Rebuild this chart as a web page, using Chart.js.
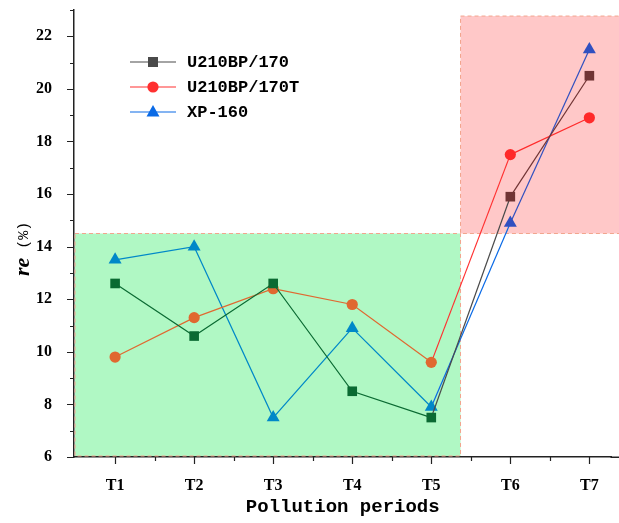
<!DOCTYPE html>
<html lang="en">
<head>
    <meta charset="UTF-8">
    <title>re vs pollution periods</title>
    <script src="https://cdn.jsdelivr.net/npm/chart.js"></script>
    <style>
        html, body { margin: 0; padding: 0; background: #fff; }
        #wrap { width: 619px; height: 523px; }
    </style>
</head>
<body>
    <div id="wrap"><canvas id="myChart"></canvas></div>

    <script>
        // data
        const periods = ['T1', 'T2', 'T3', 'T4', 'T5', 'T6', 'T7'];
        const seriesNames = ['U210BP/170', 'U210BP/170T', 'XP-160'];
        const u210bp170 = [12.6, 10.6, 12.6, 8.5, 7.5, 15.9, 20.5];
        const u210bp170t = [9.8, 11.3, 12.4, 11.8, 9.6, 17.5, 18.9];
        const xp160 = [13.5, 14.0, 7.5, 10.9, 7.9, 14.9, 21.5];
        const yTicks = [6, 8, 10, 12, 14, 16, 18, 20, 22];

        // base colour, colour inside the green box, colour inside the red box
        const colors = ['#4a4a4a', '#ff3030', '#0a6ae6'];
        const greenTint = ['#0a6a32', '#e06830', '#0088c8'];
        const redTint = ['#703434', '#ff2a2a', '#3050c0'];
        const styles = ['rect', 'circle', 'triangle'];
        const radii = [6.8, 5.6, 7.5];
        const values = [u210bp170, u210bp170t, xp160];

        const serif = '"Liberation Serif", "DejaVu Serif", serif';
        const mono = '"Liberation Mono", "DejaVu Sans Mono", monospace';

        const greenEnd = 5.37;   // right edge of the green box (x value)
        const splitY = 14.5;
        const redTop = 22.77;

        const extras = {
            id: 'extras',
            beforeDatasetsDraw(chart) {
                const { ctx, chartArea: a, scales: { x, y } } = chart;
                ctx.save();
                const gx0 = a.left + 1, gx1 = x.getPixelForValue(greenEnd);
                const gy0 = y.getPixelForValue(splitY), gy1 = a.bottom - 1;
                ctx.fillStyle = '#b0f8c4';
                ctx.fillRect(gx0, gy0, gx1 - gx0, gy1 - gy0);
                const rx0 = gx1, rx1 = chart.width + 2;
                const ry0 = y.getPixelForValue(redTop), ry1 = y.getPixelForValue(splitY);
                ctx.fillStyle = '#ffc8c8';
                ctx.fillRect(rx0, ry0, rx1 - rx0, ry1 - ry0);
                ctx.setLineDash([4, 3]);
                ctx.strokeStyle = '#f2a58e';
                ctx.lineWidth = 1;
                ctx.strokeRect(gx0, gy0, gx1 - gx0, gy1 - gy0);
                ctx.strokeRect(rx0, ry0, rx1 - rx0, ry1 - ry0);
                ctx.setLineDash([]);

                // x axis runs on past the canvas edge
                ctx.strokeStyle = '#222';
                ctx.lineWidth = 1.5;
                ctx.beginPath();
                ctx.moveTo(a.right - 1, a.bottom + 0.25);
                ctx.lineTo(chart.width, a.bottom + 0.25);
                ctx.stroke();

                // tick marks, outward
                ctx.lineWidth = 1.2;
                ctx.beginPath();
                for (let v = 6; v <= 23; v++) {
                    const py = Math.round(y.getPixelForValue(v)) + 0.5;
                    const len = v % 2 === 0 ? 7 : 4;
                    ctx.moveTo(a.left, py);
                    ctx.lineTo(a.left - len, py);
                }
                for (let v = 1; v <= 7.5; v += 0.5) {
                    const px = Math.round(x.getPixelForValue(v)) + 0.5;
                    const len = Number.isInteger(v) ? 7 : 4;
                    ctx.moveTo(px, a.bottom);
                    ctx.lineTo(px, a.bottom + len);
                }
                ctx.stroke();
                ctx.restore();
            },
            afterDatasetsDraw(chart) {
                const { ctx } = chart;
                ctx.save();
                // legend
                const rows = [62, 87, 112];
                ctx.font = 'bold 17px ' + mono;
                ctx.textBaseline = 'middle';
                rows.forEach((ry, i) => {
                    ctx.strokeStyle = colors[i];
                    ctx.lineWidth = 1.2;
                    ctx.beginPath();
                    ctx.moveTo(130, ry);
                    ctx.lineTo(176, ry);
                    ctx.stroke();
                    ctx.fillStyle = colors[i];
                    ctx.beginPath();
                    if (i === 0) {
                        ctx.rect(148, ry - 5, 10, 10);
                    } else if (i === 1) {
                        ctx.arc(153, ry, 5.6, 0, Math.PI * 2);
                    } else {
                        ctx.moveTo(153, ry - 7);
                        ctx.lineTo(159.5, ry + 4.5);
                        ctx.lineTo(146.5, ry + 4.5);
                        ctx.closePath();
                    }
                    ctx.fill();
                    ctx.fillStyle = '#000';
                    ctx.fillText(seriesNames[i], 187, ry + 1);
                });

                // y title: "re" bold italic + "(%)"
                ctx.translate(23, 250);
                ctx.rotate(-Math.PI / 2);
                ctx.textBaseline = 'middle';
                ctx.textAlign = 'left';
                ctx.font = 'italic bold 22px ' + serif;
                ctx.fillText('re', -26, 0);
                const w = ctx.measureText('re').width;
                ctx.font = '15px ' + mono;
                ctx.fillText(' (%)', -26 + w, 1);
                ctx.restore();
            }
        };

        const regionColor = (i, idx) => (idx <= 4 ? greenTint[i] : redTint[i]);

        const ctx = document.getElementById('myChart').getContext('2d');
        new Chart(ctx, {
            type: 'line',
            data: {
                datasets: values.map((vals, i) => ({
                    label: seriesNames[i],
                    data: vals.map((v, k) => ({ x: k + 1, y: v })),
                    borderColor: colors[i],
                    backgroundColor: c => regionColor(i, c.dataIndex),
                    borderWidth: 1.2,
                    pointStyle: styles[i],
                    pointRadius: radii[i],
                    pointBorderWidth: 0,
                    tension: 0,
                    fill: false,
                    clip: false,
                    segment: {
                        borderColor: s => (s.p1DataIndex <= 4 ? greenTint[i] : s.p0DataIndex >= 5 ? redTint[i] : colors[i])
                    }
                }))
            },
            options: {
                responsive: true,
                maintainAspectRatio: false,
                animation: false,
                layout: { padding: { top: 10, right: 0, left: 0, bottom: 0 } },
                plugins: {
                    legend: { display: false },
                    tooltip: { enabled: false }
                },
                scales: {
                    x: {
                        type: 'linear',
                        min: 0.48,
                        max: 7.28,
                        afterBuildTicks: s => { s.ticks = periods.map((p, i) => ({ value: i + 1 })); },
                        afterFit: s => { s.height = 66; },
                        grid: { display: false },
                        border: { display: true, color: '#222', width: 1.5 },
                        ticks: {
                            padding: 11,
                            color: '#000',
                            autoSkip: false,
                            maxRotation: 0,
                            font: { family: serif, size: 16, weight: 'bold' },
                            callback: v => periods[v - 1]
                        },
                        title: {
                            display: true,
                            text: 'Pollution periods',
                            color: '#000',
                            font: { family: mono, size: 19, weight: 'bold' },
                            padding: { top: 0, bottom: 4 }
                        }
                    },
                    y: {
                        min: 6,
                        max: 23,
                        afterBuildTicks: s => { s.ticks = yTicks.map(v => ({ value: v })); },
                        afterFit: s => { s.width = 74; s.paddingTop = 0; s.paddingBottom = 0; },
                        grid: { display: false },
                        border: { display: true, color: '#222', width: 1.5 },
                        ticks: {
                            padding: 14,
                            color: '#000',
                            font: { family: serif, size: 16, weight: 'bold' }
                        }
                    }
                }
            },
            plugins: [extras]
        });
    </script>
</body>
</html>
